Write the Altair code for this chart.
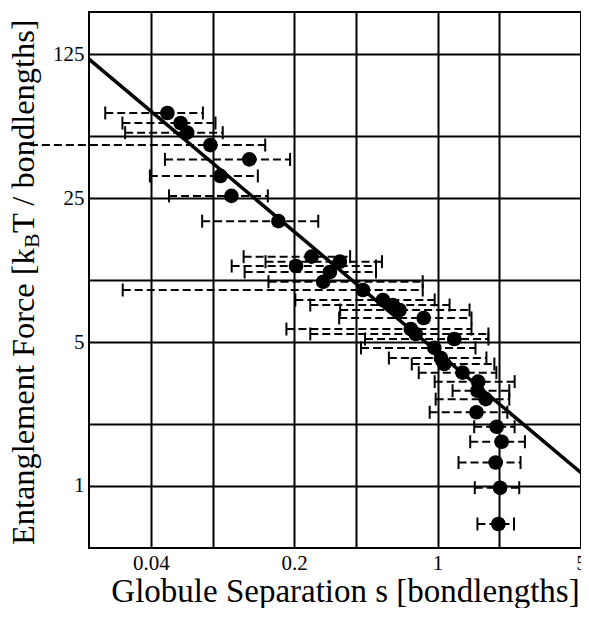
import altair as alt
import pandas as pd

# ---- data ----
sep = [0.0482, 0.0559, 0.0602, 0.0781, 0.1209, 0.0874, 0.0989, 0.1676,
       0.2431, 0.2042, 0.3339, 0.2986, 0.2771, 0.4331, 0.5416, 0.6055,
       0.6525, 0.8558, 0.7403, 0.7828, 1.206, 0.9645, 1.038, 1.078,
       1.323, 1.577, 1.564, 1.717, 1.547,
       1.941, 2.052, 1.919, 2.016, 1.978]
force = [64.7, 57.8, 51.9, 45.2, 38.5, 32.0, 25.6, 19.3,
         12.98, 11.69, 12.27, 10.94, 9.81, 8.94, 8.00, 7.56,
         7.15, 6.54, 5.78, 5.47, 5.17, 4.68, 4.18, 3.91,
         3.55, 3.21, 2.90, 2.64, 2.28,
         1.94, 1.64, 1.30, 0.981, 0.654]
sep_lo = [0.0240, 0.0291, 0.0300, 0.0103, 0.0469, 0.0396, 0.0491, 0.0712,
          0.1134, 0.0992, 0.1450, 0.1147, 0.1499, 0.0292, 0.2026, 0.2396,
          0.3350, 0.3313, 0.1833, 0.2396, 0.4429, 0.4235, 0.5790, 0.7486,
          0.8095, 0.9678, 1.183, 0.9786, 0.9152,
          1.508, 1.442, 1.265, 1.518, 1.564]
sep_hi = [0.0718, 0.0827, 0.0897, 0.1445, 0.1910, 0.1330, 0.1488, 0.2620,
          0.3747, 0.5009, 0.5355, 0.5009, 0.8464, 0.8464, 0.9678, 1.144,
          1.431, 1.463, 1.463, 1.769, 1.769, 1.530, 1.730, 1.891,
          1.934, 2.375, 2.236, 2.236, 2.187,
          2.373, 2.665, 2.537, 2.500, 2.357]

fit_sep = [0.02, 5]
fit_force = [118, 1.16]

x_ticks = [0.04, 0.08, 0.2, 0.4, 1, 2, 5]
x_labels = [0.04, 0.2, 1, 5]
y_ticks = [1, 2, 5, 10, 25, 50, 125]
y_labels = [1, 5, 25, 125]

x_title = "Globule Separation s [bondlengths]"
y_title_parts = ["Entanglement Force [k", "B", "T / bondlengths]"]

FONT = "Liberation Serif"

df = pd.DataFrame({"s": sep, "F": force, "lo": sep_lo, "hi": sep_hi})
fit = pd.DataFrame({"s": fit_sep, "F": fit_force})

xscale = alt.Scale(type="log", domain=[0.02, 5], nice=False)
yscale = alt.Scale(type="log", domain=[0.5, 200], nice=False)


def lbl_expr(vals):
    arr = ",".join(str(v) for v in vals)
    return f"indexof([{arr}], datum.value) >= 0 ? datum.label : ''"


xaxis = alt.Axis(values=x_ticks, labelExpr=lbl_expr(x_labels), format="~g",
                 grid=True, gridColor="black", gridWidth=2, gridOpacity=1,
                 tickSize=0, domain=False, labelFont=FONT, labelFontSize=21,
                 labelColor="black", labelPadding=4, labelFlush=False,
                 labelOverlap=False, title=x_title, titleFont=FONT,
                 titleFontSize=33, titleFontWeight="normal", titleColor="black",
                 titleBaseline="alphabetic", titleAlign="center",
                 titleY=53, titleX=256)
yaxis = alt.Axis(values=y_ticks, labelExpr=lbl_expr(y_labels), format="~g",
                 grid=True, gridColor="black", gridWidth=2, gridOpacity=1,
                 tickSize=0, domain=False, labelFont=FONT, labelFontSize=21,
                 labelColor="black", labelPadding=5, labelFlush=False,
                 labelOverlap=False, title=None)

X = alt.X("s:Q", scale=xscale, axis=xaxis)
Y = alt.Y("F:Q", scale=yscale, axis=yaxis)

bars = alt.Chart(df).mark_rule(color="black", strokeWidth=2, strokeDash=[8, 4]).encode(
    x=alt.X("lo:Q", scale=xscale, axis=xaxis), x2="hi:Q", y=Y)

cap_lo = alt.Chart(df).transform_filter(alt.datum.lo >= 0.02).mark_tick(
    color="black", thickness=2, size=13, orient="vertical", opacity=1).encode(
    x=alt.X("lo:Q", scale=xscale, axis=xaxis), y=Y)

cap_hi = alt.Chart(df).mark_tick(
    color="black", thickness=2, size=13, orient="vertical", opacity=1).encode(
    x=alt.X("hi:Q", scale=xscale, axis=xaxis), y=Y)

line = alt.Chart(fit).mark_line(color="black", strokeWidth=3.5, clip=True).encode(x=X, y=Y)

pts = alt.Chart(df).mark_circle(size=215, color="black", opacity=1).encode(x=X, y=Y)

t1 = alt.Chart(pd.DataFrame({"t": [y_title_parts[0]]})).mark_text(
    font=FONT, fontSize=32.4, angle=270, align="left", baseline="alphabetic",
    color="black").encode(text="t:N", x=alt.value(-55), y=alt.value(533))
t2 = alt.Chart(pd.DataFrame({"t": [y_title_parts[1]]})).mark_text(
    font=FONT, fontSize=22, angle=270, align="left", baseline="alphabetic",
    color="black").encode(text="t:N", x=alt.value(-50.5), y=alt.value(236))
t3 = alt.Chart(pd.DataFrame({"t": [y_title_parts[2]]})).mark_text(
    font=FONT, fontSize=32.4, angle=270, align="left", baseline="alphabetic",
    color="black").encode(text="t:N", x=alt.value(-55), y=alt.value(221))

chart = alt.layer(bars, cap_lo, cap_hi, line, pts, t1, t2, t3).properties(
    width=492, height=536,
    autosize=alt.AutoSizeParams(type="none"),
    padding={"left": 81, "top": 4, "right": 0, "bottom": 60},
    background="white",
).configure_view(stroke="black", strokeWidth=2)

chart.save("out.html", embed_options={"renderer": "svg", "actions": False})
